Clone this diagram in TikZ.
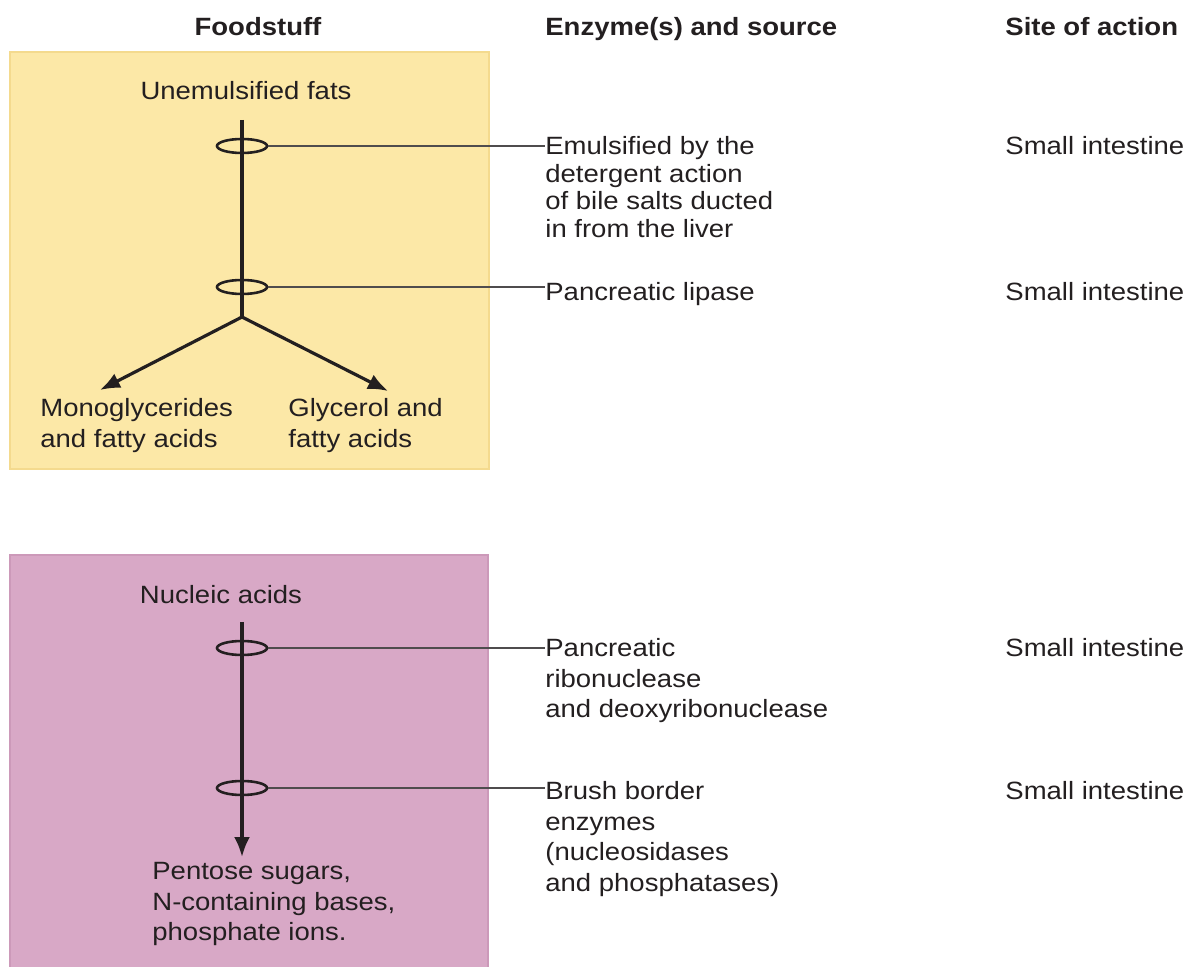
\documentclass[tikz,border=0pt]{standalone}
\usepackage{fontspec}
\setmainfont{Liberation Sans}[FakeStretch=1.1]
\usetikzlibrary{shapes.geometric, arrows.meta}
\definecolor{fatfill}{HTML}{FCE8A7}
\definecolor{fatedge}{HTML}{F4DA8E}
\definecolor{nucfill}{HTML}{D8A8C6}
\definecolor{nucedge}{HTML}{CC99B9}
\definecolor{ink}{HTML}{231F20}
\tikzstyle{txt} = [inner sep=0pt, anchor=north west, align=left, text=ink,
                 font=\fontsize{12.5}{13.85}\selectfont]
\tikzstyle{loose} = [txt, font=\fontsize{12.5}{15.3}\selectfont]
\tikzstyle{head} = [inner sep=0pt, anchor=base, text=ink,
                 font=\bfseries\fontsize{12.5}{15}\selectfont]
\tikzstyle{ring} = [ellipse, draw=ink, line width=1.3pt, inner sep=0pt,
                 minimum width=25pt, minimum height=7pt]
\tikzstyle{stem} = [line width=1.6pt, draw=ink]
\tikzstyle{lead} = [line width=1.2pt, draw=ink!80]
\tikzset{
	split/.style={stem, -{Latex[length=10pt,width=8pt]}},
}

\begin{document}
\begin{tikzpicture}[x=0.5pt, y=-0.5pt]

\useasboundingbox (0,0) rectangle (1189,967);

	%column heads
\node [head] (food) at (258,36) {Foodstuff};
\node [head, anchor=base west] (enz) at (545,36) {Enzyme(s) and source};
\node [head, anchor=base west] (site) at (1005,36) {Site of action};

	%fats
\path [fill=fatfill, draw=fatedge, line width=0.8pt] (10,52) rectangle (489,469);
\node [head, font=\fontsize{12.5}{15}\selectfont] (fats) at (246,100) {Unemulsified fats};

\coordinate (fatstop) at (242,120);
\coordinate (fork) at (242,317);
\node [ring] (cut1) at (242,146) {};
\node [ring] (cut2) at (242,287) {};

\node [loose] (mono) at (40,398) {Monoglycerides\\and fatty acids};
\node [loose] (glyc) at (288,398) {Glycerol and\\fatty acids};
\coordinate (monotip) at (100,390);
\coordinate (glyctip) at (388,391);

\path [stem] (fatstop) -- (fork);
\path [split] (fork) -- (monotip);
\path [split] (fork) -- (glyctip);

\node [txt] (bile) at (545,136) {Emulsified by the\\detergent action\\of bile salts ducted\\in from the liver};
\node [txt] (lipase) at (545,282) {Pancreatic lipase};
\path [lead] (cut1.east) -- (cut1.east -| bile.west);
\path [lead] (cut2.east) -- (cut2.east -| lipase.west);

	%nucleic acids
\path [fill=nucfill, draw=nucedge, line width=0.8pt] (10,555) rectangle (488,968);
\node [head, font=\fontsize{12.5}{15}\selectfont] (nuc) at (221,604) {Nucleic acids};

\coordinate (nuctop) at (242,622);
\coordinate (nuctip) at (242,857);
\node [ring] (cut3) at (242,648) {};
\node [ring] (cut4) at (242,788) {};
\path [split] (nuctop) -- (nuctip);

\node [loose] (pent) at (152,862) {Pentose sugars,\\N-containing bases,\\phosphate ions.};

\node [loose] (rnase) at (545,638) {Pancreatic\\ribonuclease\\and deoxyribonuclease};
\node [loose] (brush) at (545,781) {Brush border\\enzymes\\(nucleosidases\\and phosphatases)};
\path [lead] (cut3.east) -- (cut3.east -| rnase.west);
\path [lead] (cut4.east) -- (cut4.east -| brush.west);

	%sites
\foreach \y/\n in {136/s1, 282/s2, 638/s3, 781/s4}
	\node [txt] (\n) at (1005,\y) {Small intestine};

\end{tikzpicture}
\end{document}
